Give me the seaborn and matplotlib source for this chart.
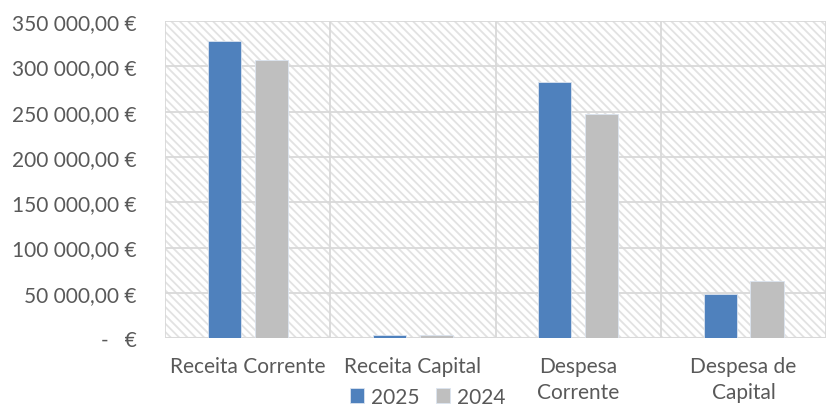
import matplotlib
matplotlib.use("Agg")
import matplotlib.pyplot as plt
import seaborn as sns
import pandas as pd
from matplotlib.patches import Rectangle
from matplotlib.ticker import FuncFormatter, MultipleLocator, FixedLocator

# dados
categorias = ["Receita Corrente", "Receita Capital", "Despesa\nCorrente", "Despesa de\nCapital"]
anos = ["2025", "2024"]
valores_2025 = [328500, 3600, 282500, 49000]
valores_2024 = [307000, 3300, 247000, 63000]
cores = ["#4f81bd", "#bfbfbf"]

df = pd.DataFrame({
    "categoria": categorias * 2,
    "ano": [anos[0]] * 4 + [anos[1]] * 4,
    "valor": valores_2025 + valores_2024,
})

sns.set_theme(style="white")
plt.rcParams["font.family"] = ["Lato", "DejaVu Sans"]
plt.rcParams["hatch.linewidth"] = 1.3

fig = plt.figure(figsize=(8.27, 4.10), dpi=100)
ax = fig.add_axes([0.1995, 0.173, 0.7995, 0.773])

# fundo tracejado
fundo = Rectangle((0, 0), 1, 1, transform=ax.transAxes, facecolor="white",
                  edgecolor="#e2e2e2", hatch="\\\\\\\\", lw=0, zorder=0)
ax.add_patch(fundo)

sns.barplot(data=df, x="categoria", y="valor", hue="ano", palette=cores,
            width=0.568, gap=0.296, saturation=1, ax=ax, zorder=3, legend=True,
            edgecolor="#dbe4f0", linewidth=0.6)

ax.set_ylim(0, 350000)
ax.set_xlim(-0.5, 3.5)
ax.yaxis.set_major_locator(MultipleLocator(50000))

def fmt(v, pos):
    if v == 0:
        return "-   €"
    return f"{int(v):,}".replace(",", " ") + ",00 €"

ax.yaxis.set_major_formatter(FuncFormatter(fmt))
ax.xaxis.set_minor_locator(FixedLocator([-0.5, 0.5, 1.5, 2.5, 3.5]))
ax.grid(axis="y", which="major", color="#d9d9d9", lw=1.3, zorder=1)
ax.grid(axis="x", which="minor", color="#d9d9d9", lw=1.3, zorder=1)
ax.grid(axis="x", which="major", visible=False)
ax.set_axisbelow(True)

for s in ax.spines.values():
    s.set_visible(False)
ax.axhline(0, color="#d9d9d9", lw=1.5, zorder=2)

ax.set_xlabel("")
ax.set_ylabel("")
ax.tick_params(axis="y", labelsize=15, colors="#595959", pad=20.5, length=0)
ax.tick_params(axis="x", labelsize=15, colors="#595959", pad=13, length=0, which="both")
for t in ax.get_xticklabels():
    t.set_linespacing(1.34)
    t.set_verticalalignment("top")

h, l = ax.get_legend_handles_labels()
ax.legend_.remove()
fig.legend(h, l, loc="center", bbox_to_anchor=(0.517, 0.03), ncol=2, frameon=False,
           fontsize=15, labelcolor="#595959", handlelength=0.7, handleheight=0.7,
           handletextpad=0.3, columnspacing=0.8)

fig.savefig("out.png", dpi=100)
